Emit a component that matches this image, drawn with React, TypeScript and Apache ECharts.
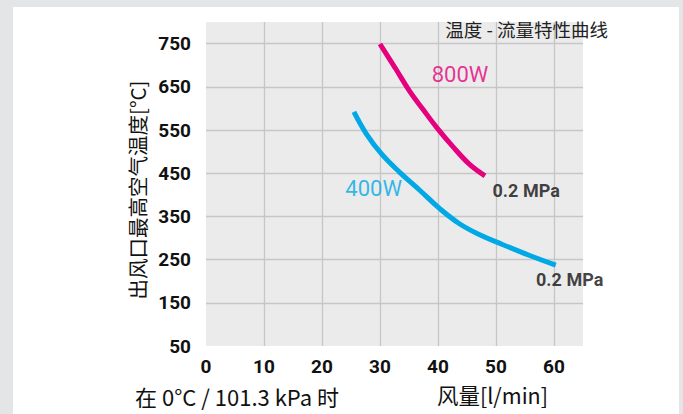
import React, { useEffect, useRef } from "react";
import * as echarts from "echarts";

const titleText = "温度 - 流量特性曲线";
const yAxisName = "出风口最高空气温度[°C]";
const xAxisName = "风量[l/min]";
const conditionText = "在 0°C / 101.3 kPa 时";

// 800W curve (flow l/min, temperature °C)
const flow800 = [30, 32.6, 35.1, 37.4, 40.0, 42.6, 45.4, 48.1];
const temp800 = [749, 694, 640, 598, 552, 511, 471, 444];
// 400W curve
const flow400 = [25.5, 27.7, 30.3, 33.4, 36.9, 40.3, 43.7, 47.1, 51.1, 55.7, 60.3];
const temp400 = [592, 540, 494, 452, 410, 368, 333, 308, 285, 260, 237];

// curve annotations: [flow, temp]
const labelNames = ["800W", "400W", "0.2 MPa", "0.2 MPa"];
const labelFlow = [43.8, 28.9, 55.2, 62.7];
const labelTemp = [679, 415, 410, 204];
const labelColors = ["#e5007d", "#00a9e6", "#111111", "#111111"];
const labelBold = [false, false, true, true];

const MAG = "#e5007d";
const CYAN = "#00a9e6";

export default function App() {
  const ref = useRef<HTMLDivElement>(null);

  useEffect(() => {
    if (!ref.current) return;
    const chart = echarts.init(ref.current, null, { renderer: "svg" });
    const annData = labelNames.map((n, i) => ({
      name: n,
      value: [labelFlow[i], labelTemp[i]],
      label: {
        color: labelColors[i],
        fontWeight: labelBold[i] ? "bold" : "normal",
        fontSize: labelBold[i] ? 18 : 22,
        fontFamily: "Roboto, 'Liberation Sans', sans-serif",
      },
    }));
    chart.setOption({
      animation: false,
      backgroundColor: "transparent",
      title: {
        text: titleText,
        right: 70,
        top: 15,
        textStyle: {
          fontSize: 18.5,
          fontWeight: "normal",
          color: "#222",
          fontFamily: "'Noto Sans CJK SC', sans-serif",
        },
      },
      grid: {
        left: 206,
        top: 22,
        right: 100,
        bottom: 68,
        show: true,
        backgroundColor: "#ebebeb",
        borderWidth: 0,
      },
      xAxis: {
        type: "value",
        min: 0,
        max: 65,
        interval: 10,
        axisLine: { show: false },
        axisTick: { show: false },
        axisLabel: {
          showMaxLabel: false,
          margin: 11,
          fontSize: 19,
          fontWeight: "bold",
          color: "#111",
          fontFamily: "Roboto, 'Liberation Sans', sans-serif",
        },
        splitLine: {
          show: true,
          showMinLine: false,
          showMaxLine: false,
          lineStyle: { color: "#c6c6c6", width: 1.3 },
        },
      },
      yAxis: {
        type: "value",
        min: 50,
        max: 800,
        interval: 100,
        name: yAxisName,
        nameLocation: "middle",
        nameRotate: 90,
        nameGap: 57,
        nameTextStyle: {
          fontSize: 20.5,
          color: "#111",
          fontFamily: "'Noto Sans CJK SC', sans-serif",
          padding: [0, 0, 0, -12],
        },
        axisLine: { show: false },
        axisTick: { show: false },
        axisLabel: {
          showMaxLabel: false,
          margin: 15,
          fontSize: 19,
          fontWeight: "bold",
          color: "#111",
          fontFamily: "Roboto, 'Liberation Sans', sans-serif",
        },
        splitLine: {
          show: true,
          showMinLine: false,
          showMaxLine: false,
          lineStyle: { color: "#c6c6c6", width: 1.3 },
        },
      },
      graphic: [
        {
          type: "text",
          left: 135,
          top: 385,
          style: {
            text: conditionText,
            fontSize: 22,
            fill: "#111",
            fontFamily: "'Noto Sans CJK SC', sans-serif",
          },
        },
        {
          type: "text",
          left: 437,
          top: 384,
          style: {
            text: xAxisName,
            fontSize: 21.5,
            fill: "#111",
            fontFamily: "'Noto Sans CJK SC', sans-serif",
          },
        },
      ],
      series: [
        {
          name: "800W",
          type: "line",
          smooth: 0.4,
          symbol: "none",
          data: flow800.map((f, i) => [f, temp800[i]]),
          lineStyle: { color: MAG, width: 5 },
        },
        {
          name: "400W",
          type: "line",
          smooth: 0.4,
          symbol: "none",
          data: flow400.map((f, i) => [f, temp400[i]]),
          lineStyle: { color: CYAN, width: 5 },
        },
        {
          name: "labels",
          type: "scatter",
          symbolSize: 1,
          itemStyle: { color: "transparent" },
          silent: true,
          label: { show: true, position: "inside", formatter: "{b}" },
          data: annData,
        },
      ],
    });
    return () => chart.dispose();
  }, []);

  return (
    <div style={{ position: "fixed", left: 0, top: 0, width: 683, height: 414, background: "#e4e5e6" }}>
      <div style={{ position: "absolute", left: 13, top: 7, width: 666, height: 407, background: "#ffffff" }} />
      <div ref={ref} style={{ position: "absolute", left: 0, top: 0, width: 683, height: 414 }} />
    </div>
  );
}
